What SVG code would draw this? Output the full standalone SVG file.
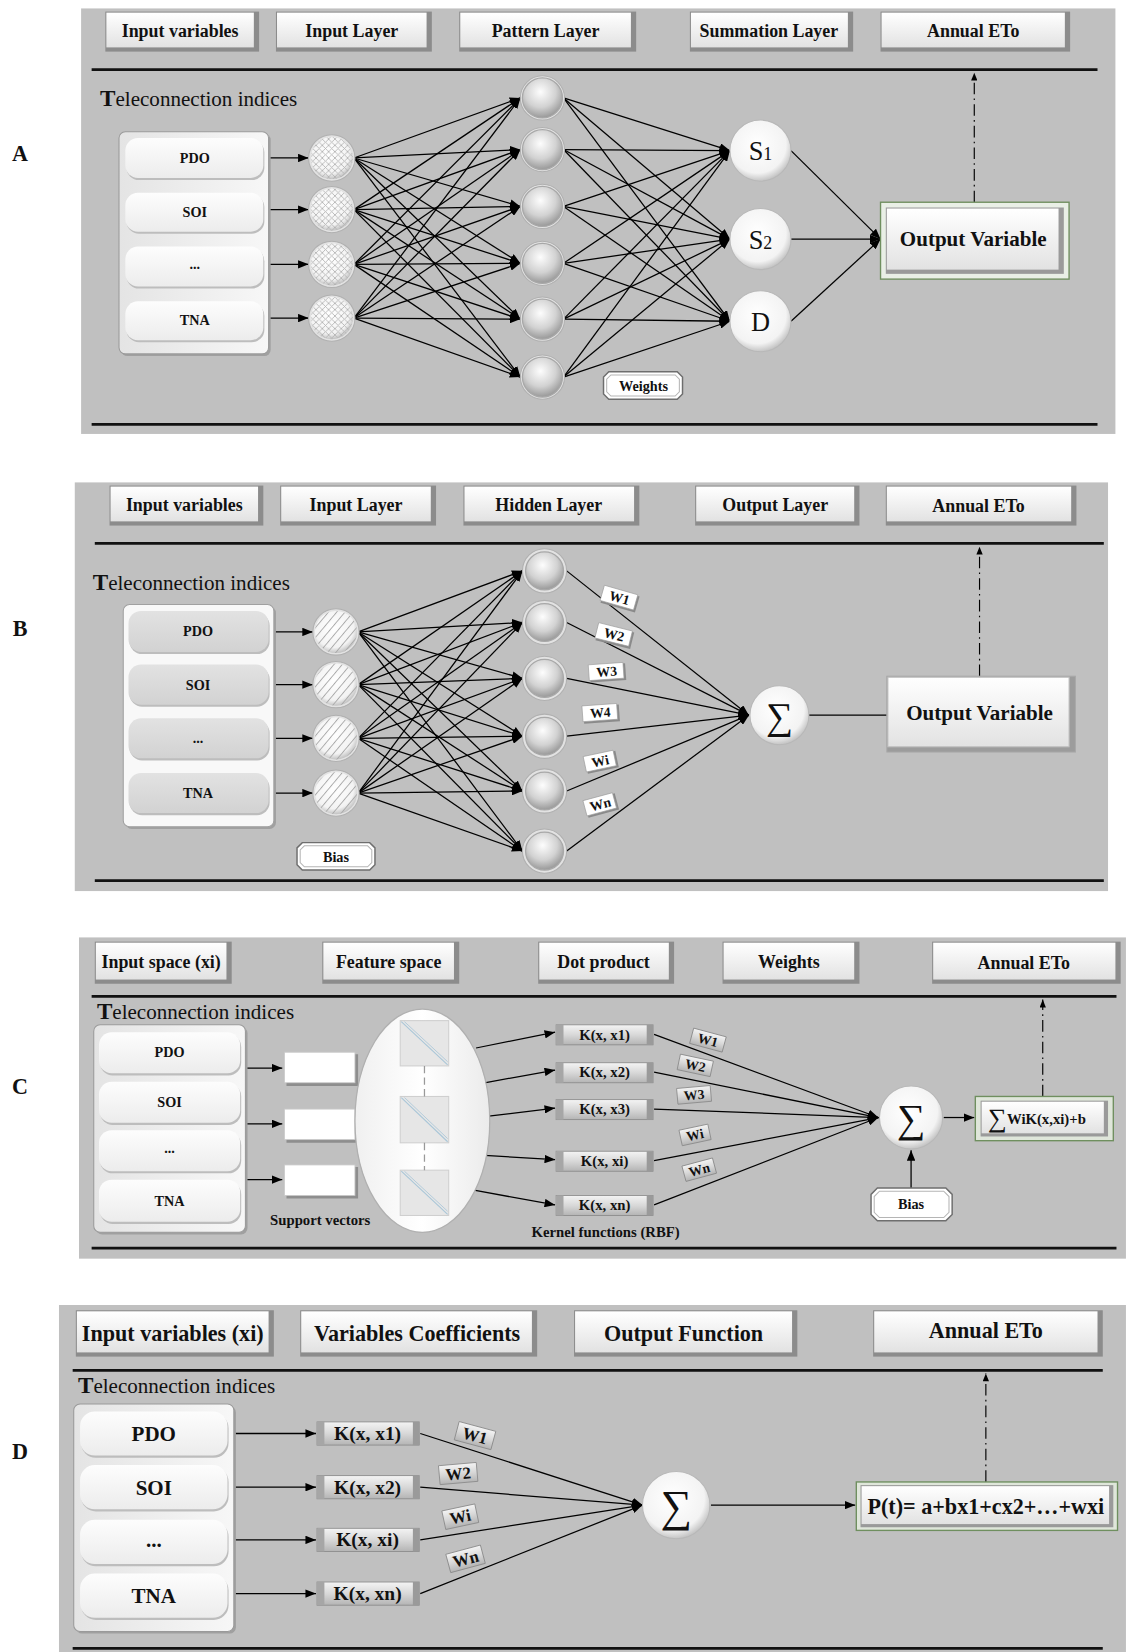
<svg xmlns="http://www.w3.org/2000/svg" width="1127" height="1652" viewBox="0 0 1127 1652">
<style>
text{font-family:'Liberation Serif','DejaVu Serif',serif;fill:#111}
.bg{fill:#c0c0c0}
.rule{stroke:#111;stroke-width:2.6}
.ln{stroke:#000;stroke-width:1.2;fill:none}
.la{stroke:#000;stroke-width:1.2;fill:none;marker-end:url(#ah)}
.dd{stroke:#000;stroke-width:1.1;fill:none;stroke-dasharray:11 4 1.5 4;marker-end:url(#ahS)}
.hs{fill:#8c8c8c}
.hf{fill:url(#gHdr)}
.ht{font-weight:bold;font-size:17px;text-anchor:middle}
.htD{font-weight:bold;font-size:21px;text-anchor:middle}
.tele{font-size:20px}
.it{font-weight:bold;font-size:13.5px;text-anchor:middle}
.itD{font-weight:bold;font-size:20px;text-anchor:middle}
.pnl{fill:url(#gPanel);stroke:#9a9a9a;stroke-width:1}
.pns{fill:#a0a0a0}
.item{fill:url(#gItem)}
.itemB{fill:url(#gItemB)}
.its{fill:#bdbdbd}
.node{fill:url(#gNode);stroke:#a8a8a8;stroke-width:1.2}
.ring{fill:#e2e2e2;stroke:#b0b0b0;stroke-width:1}
.sum{fill:url(#gSum);stroke:#b8b8b8;stroke-width:1}
.kb{fill:url(#gK);stroke:#8a8a8a;stroke-width:0.8}
.kt{font-weight:bold;font-size:14px;text-anchor:middle}
.ktD{font-weight:bold;font-size:18.5px;text-anchor:middle}
.wt{font-weight:bold;font-size:13px;text-anchor:middle}
.wtD{font-weight:bold;font-size:16px;text-anchor:middle}
.plq{fill:#fff;stroke:#6e6e6e;stroke-width:1.4}
.lbl{font-weight:bold;font-size:21px;text-anchor:middle}
</style>
<defs>
<linearGradient id="gHdr" x1="0" y1="0" x2="0" y2="1"><stop offset="0" stop-color="#ffffff"/><stop offset="1" stop-color="#e2e2e2"/></linearGradient>
<linearGradient id="gPanel" x1="0" y1="0" x2="1" y2="0"><stop offset="0" stop-color="#e4e4e4"/><stop offset="1" stop-color="#f7f7f7"/></linearGradient>
<linearGradient id="gItem" x1="0" y1="0" x2="0" y2="1"><stop offset="0" stop-color="#fdfdfd"/><stop offset="1" stop-color="#ececec"/></linearGradient>
<linearGradient id="gItemB" x1="0" y1="0" x2="0" y2="1"><stop offset="0" stop-color="#e2e2e2"/><stop offset="1" stop-color="#d2d2d2"/></linearGradient>
<linearGradient id="gK" x1="0" y1="0" x2="0" y2="1"><stop offset="0" stop-color="#f4f4f4"/><stop offset="0.5" stop-color="#d8d8d8"/><stop offset="1" stop-color="#b4b4b4"/></linearGradient>
<linearGradient id="gEl" x1="0" y1="0" x2="1" y2="0"><stop offset="0" stop-color="#f0f0f0"/><stop offset="0.5" stop-color="#ffffff"/><stop offset="1" stop-color="#ebebeb"/></linearGradient>
<radialGradient id="gNode" cx="0.45" cy="0.35" r="0.7"><stop offset="0" stop-color="#fdfdfd"/><stop offset="0.55" stop-color="#d2d2d2"/><stop offset="1" stop-color="#8e8e8e"/></radialGradient>
<radialGradient id="gSum" cx="0.45" cy="0.4" r="0.65"><stop offset="0" stop-color="#ffffff"/><stop offset="0.72" stop-color="#f3f3f3"/><stop offset="1" stop-color="#b2b2b2"/></radialGradient>
<pattern id="pCross" width="6" height="6" patternUnits="userSpaceOnUse"><path d="M0,0 L6,6 M6,0 L0,6" stroke="#b2b2b2" stroke-width="0.8"/></pattern>
<pattern id="pHatch" width="6" height="6" patternUnits="userSpaceOnUse" patternTransform="rotate(40)"><line x1="0" y1="0" x2="0" y2="6" stroke="#aaaaaa" stroke-width="1.8"/></pattern>
<marker id="ah" viewBox="0 0 10 8" refX="10" refY="4" markerWidth="10" markerHeight="8" markerUnits="userSpaceOnUse" orient="auto"><path d="M0,0 L10,4 L0,8 z" fill="#000"/></marker>
<marker id="ahS" viewBox="0 0 10 8" refX="10" refY="4" markerWidth="8" markerHeight="6" markerUnits="userSpaceOnUse" orient="auto"><path d="M0,0 L10,4 L0,8 z" fill="#000"/></marker>
</defs>
<rect width="1127" height="1652" fill="#ffffff"/>
<g transform="scale(1.05327)">

<!-- ================= Backgrounds ================= -->
<g id="backgrounds">
<rect class="bg" x="77" y="8" width="982" height="404"/>
<rect class="bg" x="71" y="458" width="981" height="388"/>
<rect class="bg" x="75" y="890" width="994" height="305"/>
<rect class="bg" x="56" y="1239" width="1013" height="330"/>
<line class="rule" x1="87" y1="66" x2="1042" y2="66"/>
<line class="rule" x1="87" y1="403" x2="1042" y2="403"/>
<line class="rule" x1="90" y1="516" x2="1048" y2="516"/>
<line class="rule" x1="90" y1="836" x2="1048" y2="836"/>
<line class="rule" x1="87" y1="946" x2="1060" y2="946"/>
<line class="rule" x1="87" y1="1185" x2="1060" y2="1185"/>
<line class="rule" x1="69" y1="1301" x2="1047" y2="1301"/>
<line class="rule" x1="69" y1="1565" x2="1047" y2="1565"/>
<text class="lbl" x="19" y="153">A</text>
<text class="lbl" x="19" y="604">B</text>
<text class="lbl" x="19" y="1039">C</text>
<text class="lbl" x="19" y="1385">D</text>
<text class="tele" x="95" y="101"><tspan font-weight="bold" font-size="22">T</tspan>eleconnection indices</text>
<text class="tele" x="88" y="560"><tspan font-weight="bold" font-size="22">T</tspan>eleconnection indices</text>
<text class="tele" x="92" y="967"><tspan font-weight="bold" font-size="22">T</tspan>eleconnection indices</text>
<text class="tele" x="74" y="1323"><tspan font-weight="bold" font-size="22">T</tspan>eleconnection indices</text>
</g>

<!-- ================= Connectors ================= -->
<g id="connectors">
<!-- A: input -> pattern -->
<line class="la" x1="255" y1="150" x2="293" y2="150"/>
<line class="la" x1="255" y1="199" x2="293" y2="199"/>
<line class="la" x1="255" y1="251" x2="293" y2="251"/>
<line class="la" x1="255" y1="302" x2="293" y2="302"/>
<line class="la" x1="336" y1="150" x2="494" y2="93"/><line class="la" x1="336" y1="150" x2="494" y2="142"/><line class="la" x1="336" y1="150" x2="494" y2="196"/><line class="la" x1="336" y1="150" x2="494" y2="250"/><line class="la" x1="336" y1="150" x2="494" y2="303"/><line class="la" x1="336" y1="150" x2="494" y2="358"/>
<line class="la" x1="336" y1="199" x2="494" y2="93"/><line class="la" x1="336" y1="199" x2="494" y2="142"/><line class="la" x1="336" y1="199" x2="494" y2="196"/><line class="la" x1="336" y1="199" x2="494" y2="250"/><line class="la" x1="336" y1="199" x2="494" y2="303"/><line class="la" x1="336" y1="199" x2="494" y2="358"/>
<line class="la" x1="336" y1="251" x2="494" y2="93"/><line class="la" x1="336" y1="251" x2="494" y2="142"/><line class="la" x1="336" y1="251" x2="494" y2="196"/><line class="la" x1="336" y1="251" x2="494" y2="250"/><line class="la" x1="336" y1="251" x2="494" y2="303"/><line class="la" x1="336" y1="251" x2="494" y2="358"/>
<line class="la" x1="336" y1="302" x2="494" y2="93"/><line class="la" x1="336" y1="302" x2="494" y2="142"/><line class="la" x1="336" y1="302" x2="494" y2="196"/><line class="la" x1="336" y1="302" x2="494" y2="250"/><line class="la" x1="336" y1="302" x2="494" y2="303"/><line class="la" x1="336" y1="302" x2="494" y2="358"/>
<!-- A: pattern -> summation -->
<line class="la" x1="535" y1="93" x2="693" y2="143"/><line class="la" x1="535" y1="93" x2="693" y2="227"/><line class="la" x1="535" y1="93" x2="693" y2="305"/>
<line class="la" x1="535" y1="142" x2="693" y2="143"/><line class="la" x1="535" y1="142" x2="693" y2="227"/><line class="la" x1="535" y1="142" x2="693" y2="305"/>
<line class="la" x1="535" y1="196" x2="693" y2="143"/><line class="la" x1="535" y1="196" x2="693" y2="227"/><line class="la" x1="535" y1="196" x2="693" y2="305"/>
<line class="la" x1="535" y1="250" x2="693" y2="143"/><line class="la" x1="535" y1="250" x2="693" y2="227"/><line class="la" x1="535" y1="250" x2="693" y2="305"/>
<line class="la" x1="535" y1="303" x2="693" y2="143"/><line class="la" x1="535" y1="303" x2="693" y2="227"/><line class="la" x1="535" y1="303" x2="693" y2="305"/>
<line class="la" x1="535" y1="358" x2="693" y2="143"/><line class="la" x1="535" y1="358" x2="693" y2="227"/><line class="la" x1="535" y1="358" x2="693" y2="305"/>
<!-- A: summation -> output -->
<line class="la" x1="751" y1="143" x2="836" y2="227"/>
<line class="la" x1="751" y1="227" x2="836" y2="227"/>
<line class="la" x1="751" y1="305" x2="836" y2="227"/>
<line class="dd" x1="925" y1="192" x2="925" y2="69"/>

<!-- B: input -> hidden -->
<line class="la" x1="260" y1="600" x2="297" y2="600"/>
<line class="la" x1="260" y1="650" x2="297" y2="650"/>
<line class="la" x1="260" y1="701" x2="297" y2="701"/>
<line class="la" x1="260" y1="753" x2="297" y2="753"/>
<line class="la" x1="340" y1="600" x2="496" y2="542"/><line class="la" x1="340" y1="600" x2="496" y2="591"/><line class="la" x1="340" y1="600" x2="496" y2="644"/><line class="la" x1="340" y1="600" x2="496" y2="699"/><line class="la" x1="340" y1="600" x2="496" y2="751"/><line class="la" x1="340" y1="600" x2="496" y2="808"/>
<line class="la" x1="340" y1="650" x2="496" y2="542"/><line class="la" x1="340" y1="650" x2="496" y2="591"/><line class="la" x1="340" y1="650" x2="496" y2="644"/><line class="la" x1="340" y1="650" x2="496" y2="699"/><line class="la" x1="340" y1="650" x2="496" y2="751"/><line class="la" x1="340" y1="650" x2="496" y2="808"/>
<line class="la" x1="340" y1="701" x2="496" y2="542"/><line class="la" x1="340" y1="701" x2="496" y2="591"/><line class="la" x1="340" y1="701" x2="496" y2="644"/><line class="la" x1="340" y1="701" x2="496" y2="699"/><line class="la" x1="340" y1="701" x2="496" y2="751"/><line class="la" x1="340" y1="701" x2="496" y2="808"/>
<line class="la" x1="340" y1="753" x2="496" y2="542"/><line class="la" x1="340" y1="753" x2="496" y2="591"/><line class="la" x1="340" y1="753" x2="496" y2="644"/><line class="la" x1="340" y1="753" x2="496" y2="699"/><line class="la" x1="340" y1="753" x2="496" y2="751"/><line class="la" x1="340" y1="753" x2="496" y2="808"/>
<!-- B: hidden -> sigma -->
<line class="la" x1="538" y1="542" x2="711" y2="679"/>
<line class="la" x1="538" y1="591" x2="711" y2="679"/>
<line class="la" x1="538" y1="644" x2="711" y2="679"/>
<line class="la" x1="538" y1="699" x2="711" y2="679"/>
<line class="la" x1="538" y1="751" x2="711" y2="679"/>
<line class="la" x1="538" y1="808" x2="711" y2="679"/>
<line class="ln" x1="768" y1="679" x2="842" y2="679"/>
<line class="dd" x1="930" y1="642" x2="930" y2="519"/>

<!-- C -->
<line class="la" x1="233" y1="1014" x2="268" y2="1014"/>
<line class="la" x1="233" y1="1067" x2="268" y2="1067"/>
<line class="la" x1="233" y1="1120" x2="268" y2="1120"/>
<line class="la" x1="452" y1="995" x2="527" y2="980"/>
<line class="la" x1="460" y1="1028" x2="527" y2="1016"/>
<line class="la" x1="462" y1="1060" x2="527" y2="1052"/>
<line class="la" x1="460" y1="1097" x2="527" y2="1101"/>
<line class="la" x1="450" y1="1130" x2="527" y2="1144"/>
<line class="la" x1="621" y1="982" x2="834" y2="1061"/>
<line class="la" x1="621" y1="1018" x2="834" y2="1061"/>
<line class="la" x1="621" y1="1053" x2="834" y2="1061"/>
<line class="la" x1="621" y1="1102" x2="834" y2="1061"/>
<line class="la" x1="621" y1="1144" x2="834" y2="1061"/>
<line class="la" x1="896" y1="1061" x2="925" y2="1061"/>
<line class="la" x1="865" y1="1128" x2="865" y2="1092"/>
<line class="dd" x1="990" y1="1041" x2="990" y2="949"/>

<!-- D -->
<line class="la" x1="216" y1="1361" x2="300" y2="1361"/>
<line class="la" x1="216" y1="1412" x2="300" y2="1412"/>
<line class="la" x1="216" y1="1462" x2="300" y2="1462"/>
<line class="la" x1="216" y1="1513" x2="300" y2="1513"/>
<line class="la" x1="399" y1="1361" x2="610" y2="1429"/>
<line class="la" x1="399" y1="1412" x2="610" y2="1429"/>
<line class="la" x1="399" y1="1462" x2="610" y2="1429"/>
<line class="la" x1="399" y1="1513" x2="610" y2="1429"/>
<line class="la" x1="675" y1="1429" x2="812" y2="1429"/>
<line class="dd" x1="936" y1="1407" x2="936" y2="1304"/>
</g>

<!-- ================= Panel A nodes ================= -->
<g id="a-hdr-1"><rect class="hs" x="100" y="11" width="146" height="38"/><rect class="hf" x="101" y="12" width="140" height="33"/><text class="ht" x="171" y="35">Input variables</text></g>
<g id="a-hdr-2"><rect class="hs" x="262" y="11" width="148" height="38"/><rect class="hf" x="263" y="12" width="142" height="33"/><text class="ht" x="334" y="35">Input Layer</text></g>
<g id="a-hdr-3"><rect class="hs" x="436" y="11" width="168" height="38"/><rect class="hf" x="437" y="12" width="162" height="33"/><text class="ht" x="518" y="35">Pattern Layer</text></g>
<g id="a-hdr-4"><rect class="hs" x="655" y="11" width="155" height="38"/><rect class="hf" x="656" y="12" width="149" height="33"/><text class="ht" x="730" y="35">Summation Layer</text></g>
<g id="a-hdr-5"><rect class="hs" x="836" y="11" width="180" height="38"/><rect class="hf" x="837" y="12" width="174" height="33"/><text class="ht" x="924" y="35">Annual ETo</text></g>
<g id="a-inputs">
<rect class="pns" x="115" y="127" width="142" height="211" rx="6"/>
<rect class="pnl" x="113" y="125" width="142" height="211" rx="6"/>
<rect class="its" x="120" y="133" width="131" height="38" rx="12"/><rect class="item" x="119" y="131" width="131" height="38" rx="12"/><text class="it" x="185" y="155">PDO</text>
<rect class="its" x="120" y="185" width="131" height="37" rx="12"/><rect class="item" x="119" y="183" width="131" height="37" rx="12"/><text class="it" x="185" y="206">SOI</text>
<rect class="its" x="120" y="236" width="131" height="38" rx="12"/><rect class="item" x="119" y="234" width="131" height="38" rx="12"/><text class="it" x="185" y="255">...</text>
<rect class="its" x="120" y="288" width="131" height="37" rx="12"/><rect class="item" x="119" y="286" width="131" height="37" rx="12"/><text class="it" x="185" y="309">TNA</text>
</g>
<g id="a-in-nodes">
<circle class="ring" cx="315" cy="150" r="22"/><circle cx="315" cy="150" r="20" fill="url(#gSum)"/><circle cx="315" cy="150" r="20" fill="url(#pCross)"/>
<circle class="ring" cx="315" cy="199" r="22"/><circle cx="315" cy="199" r="20" fill="url(#gSum)"/><circle cx="315" cy="199" r="20" fill="url(#pCross)"/>
<circle class="ring" cx="315" cy="251" r="22"/><circle cx="315" cy="251" r="20" fill="url(#gSum)"/><circle cx="315" cy="251" r="20" fill="url(#pCross)"/>
<circle class="ring" cx="315" cy="302" r="22"/><circle cx="315" cy="302" r="20" fill="url(#gSum)"/><circle cx="315" cy="302" r="20" fill="url(#pCross)"/>
</g>
<g id="a-pattern">
<circle class="ring" cx="515" cy="93" r="21"/><circle class="node" cx="515" cy="93" r="19"/>
<circle class="ring" cx="515" cy="142" r="21"/><circle class="node" cx="515" cy="142" r="19"/>
<circle class="ring" cx="515" cy="196" r="21"/><circle class="node" cx="515" cy="196" r="19"/>
<circle class="ring" cx="515" cy="250" r="21"/><circle class="node" cx="515" cy="250" r="19"/>
<circle class="ring" cx="515" cy="303" r="21"/><circle class="node" cx="515" cy="303" r="19"/>
<circle class="ring" cx="515" cy="358" r="21"/><circle class="node" cx="515" cy="358" r="19"/>
</g>
<g id="a-s1"><circle class="sum" cx="722" cy="143" r="29"/><text x="722" y="152" font-size="25" text-anchor="middle">S<tspan font-size="17">1</tspan></text></g>
<g id="a-s2"><circle class="sum" cx="722" cy="227" r="29"/><text x="722" y="236" font-size="25" text-anchor="middle">S<tspan font-size="17">2</tspan></text></g>
<g id="a-d"><circle class="sum" cx="722" cy="305" r="29"/><text x="722" y="314" font-size="25" text-anchor="middle">D</text></g>
<g id="a-output"><rect x="836" y="192" width="179" height="73" fill="#e9efe6" stroke="#6f8f5f" stroke-width="1.3"/><rect x="841" y="197" width="169" height="63" fill="#9a9a9a"/><rect x="842" y="198" width="163" height="58" fill="url(#gHdr)"/><text x="924" y="234" font-size="20" font-weight="bold" text-anchor="middle">Output Variable</text></g>
<g id="a-weights"><path class="plq" d="M578,353 L643,353 L648,358 L648,374 L643,379 L578,379 L573,374 L573,358 Z"/><path d="M580,356 L641,356 L645,360 L645,372 L641,376 L580,376 L576,372 L576,360 Z" fill="none" stroke="#b5b5b5" stroke-width="1"/><text class="it" x="611" y="371" font-size="13">Weights</text></g>

<!-- ================= Panel B nodes ================= -->
<g id="b-hdr-1"><rect class="hs" x="104" y="461" width="146" height="38"/><rect class="hf" x="105" y="462" width="140" height="33"/><text class="ht" x="175" y="485">Input variables</text></g>
<g id="b-hdr-2"><rect class="hs" x="266" y="461" width="148" height="38"/><rect class="hf" x="267" y="462" width="142" height="33"/><text class="ht" x="338" y="485">Input Layer</text></g>
<g id="b-hdr-3"><rect class="hs" x="440" y="461" width="167" height="38"/><rect class="hf" x="441" y="462" width="161" height="33"/><text class="ht" x="521" y="485">Hidden Layer</text></g>
<g id="b-hdr-4"><rect class="hs" x="660" y="461" width="156" height="38"/><rect class="hf" x="661" y="462" width="150" height="33"/><text class="ht" x="736" y="485">Output Layer</text></g>
<g id="b-hdr-5"><rect class="hs" x="841" y="461" width="181" height="38"/><rect class="hf" x="842" y="462" width="175" height="33"/><text class="ht" x="929" y="486">Annual ETo</text></g>
<g id="b-inputs">
<rect class="pns" x="119" y="576" width="143" height="211" rx="6"/>
<rect x="117" y="574" width="143" height="211" rx="6" fill="#f8f8f8" stroke="#a0a0a0"/>
<rect class="its" x="123" y="582" width="133" height="39" rx="12"/><rect class="itemB" x="122" y="580" width="133" height="39" rx="12"/><text class="it" x="188" y="604">PDO</text>
<rect class="its" x="123" y="633" width="133" height="38" rx="12"/><rect class="itemB" x="122" y="631" width="133" height="38" rx="12"/><text class="it" x="188" y="655">SOI</text>
<rect class="its" x="123" y="684" width="133" height="38" rx="12"/><rect class="itemB" x="122" y="682" width="133" height="38" rx="12"/><text class="it" x="188" y="705">...</text>
<rect class="its" x="123" y="736" width="133" height="38" rx="12"/><rect class="itemB" x="122" y="734" width="133" height="38" rx="12"/><text class="it" x="188" y="758">TNA</text>
</g>
<g id="b-in-nodes">
<circle class="ring" cx="319" cy="600" r="22"/><circle cx="319" cy="600" r="20" fill="url(#gSum)"/><circle cx="319" cy="600" r="20" fill="url(#pHatch)"/>
<circle class="ring" cx="319" cy="650" r="22"/><circle cx="319" cy="650" r="20" fill="url(#gSum)"/><circle cx="319" cy="650" r="20" fill="url(#pHatch)"/>
<circle class="ring" cx="319" cy="701" r="22"/><circle cx="319" cy="701" r="20" fill="url(#gSum)"/><circle cx="319" cy="701" r="20" fill="url(#pHatch)"/>
<circle class="ring" cx="319" cy="753" r="22"/><circle cx="319" cy="753" r="20" fill="url(#gSum)"/><circle cx="319" cy="753" r="20" fill="url(#pHatch)"/>
</g>
<g id="b-hidden">
<circle class="ring" cx="517" cy="542" r="21"/><circle class="node" cx="517" cy="542" r="18"/>
<circle class="ring" cx="517" cy="591" r="21"/><circle class="node" cx="517" cy="591" r="18"/>
<circle class="ring" cx="517" cy="644" r="21"/><circle class="node" cx="517" cy="644" r="18"/>
<circle class="ring" cx="517" cy="699" r="21"/><circle class="node" cx="517" cy="699" r="18"/>
<circle class="ring" cx="517" cy="751" r="21"/><circle class="node" cx="517" cy="751" r="18"/>
<circle class="ring" cx="517" cy="808" r="21"/><circle class="node" cx="517" cy="808" r="18"/>
</g>
<g id="b-weights">
<g transform="translate(588,568) rotate(16)"><rect x="-16" y="-7" width="34" height="16" fill="#8a8a8a"/><rect x="-17" y="-8" width="33" height="15" fill="#fff" stroke="#999" stroke-width="0.6"/><text class="wt" x="0" y="4">W1</text></g>
<g transform="translate(583,603) rotate(14)"><rect x="-16" y="-7" width="34" height="16" fill="#8a8a8a"/><rect x="-17" y="-8" width="33" height="15" fill="#fff" stroke="#999" stroke-width="0.6"/><text class="wt" x="0" y="4">W2</text></g>
<g transform="translate(576,638) rotate(-4)"><rect x="-16" y="-7" width="34" height="16" fill="#8a8a8a"/><rect x="-17" y="-8" width="33" height="15" fill="#fff" stroke="#999" stroke-width="0.6"/><text class="wt" x="0" y="4">W3</text></g>
<g transform="translate(570,677) rotate(-4)"><rect x="-16" y="-7" width="34" height="16" fill="#8a8a8a"/><rect x="-17" y="-8" width="33" height="15" fill="#fff" stroke="#999" stroke-width="0.6"/><text class="wt" x="0" y="4">W4</text></g>
<g transform="translate(570,723) rotate(-12)"><rect x="-14" y="-7" width="30" height="16" fill="#8a8a8a"/><rect x="-15" y="-8" width="29" height="15" fill="#fff" stroke="#999" stroke-width="0.6"/><text class="wt" x="0" y="4">Wi</text></g>
<g transform="translate(570,764) rotate(-15)"><rect x="-14" y="-7" width="30" height="16" fill="#8a8a8a"/><rect x="-15" y="-8" width="29" height="15" fill="#fff" stroke="#999" stroke-width="0.6"/><text class="wt" x="0" y="4">Wn</text></g>
</g>
<g id="b-sigma"><circle class="sum" cx="740" cy="679" r="28"/><text x="740" y="692" font-size="36" text-anchor="middle">∑</text></g>
<g id="b-output"><rect x="842" y="642" width="179" height="72" fill="#9c9c9c" stroke="#a8a8a8"/><rect x="843" y="643" width="172" height="66" fill="url(#gHdr)" stroke="#c0c0c0"/><text x="930" y="684" font-size="20" font-weight="bold" text-anchor="middle">Output Variable</text></g>
<g id="b-bias"><path class="plq" d="M287,800 L351,800 L356,805 L356,821 L351,826 L287,826 L282,821 L282,805 Z"/><path d="M289,803 L349,803 L353,807 L353,819 L349,823 L289,823 L285,819 L285,807 Z" fill="none" stroke="#b5b5b5"/><text class="it" x="319" y="818" font-size="13.5">Bias</text></g>

<!-- ================= Panel C nodes ================= -->
<g id="c-hdr-1"><rect class="hs" x="90" y="894" width="130" height="40"/><rect class="hf" x="91" y="895" width="124" height="35"/><text class="ht" x="153" y="919">Input space (xi)</text></g>
<g id="c-hdr-2"><rect class="hs" x="306" y="894" width="130" height="40"/><rect class="hf" x="307" y="895" width="124" height="35"/><text class="ht" x="369" y="919">Feature space</text></g>
<g id="c-hdr-3"><rect class="hs" x="511" y="894" width="129" height="40"/><rect class="hf" x="512" y="895" width="123" height="35"/><text class="ht" x="573" y="919">Dot product</text></g>
<g id="c-hdr-4"><rect class="hs" x="686" y="894" width="130" height="40"/><rect class="hf" x="687" y="895" width="124" height="35"/><text class="ht" x="749" y="919">Weights</text></g>
<g id="c-hdr-5"><rect class="hs" x="885" y="894" width="179" height="40"/><rect class="hf" x="886" y="895" width="173" height="35"/><text class="ht" x="972" y="920">Annual ETo</text></g>
<g id="c-inputs">
<rect class="pns" x="91" y="975" width="144" height="197" rx="6"/>
<rect class="pnl" x="89" y="973" width="144" height="197" rx="6"/>
<rect class="its" x="95" y="982" width="134" height="39" rx="12"/><rect class="item" x="94" y="980" width="134" height="39" rx="12"/><text class="it" x="161" y="1004">PDO</text>
<rect class="its" x="95" y="1029" width="134" height="39" rx="12"/><rect class="item" x="94" y="1027" width="134" height="39" rx="12"/><text class="it" x="161" y="1051">SOI</text>
<rect class="its" x="95" y="1075" width="134" height="39" rx="12"/><rect class="item" x="94" y="1073" width="134" height="39" rx="12"/><text class="it" x="161" y="1095">...</text>
<rect class="its" x="95" y="1122" width="134" height="40" rx="12"/><rect class="item" x="94" y="1120" width="134" height="40" rx="12"/><text class="it" x="161" y="1145">TNA</text>
</g>
<g id="c-support">
<path d="M272,1001 L340,1001 L340,1031 L272,1031 Z" fill="#8e8e8e"/><rect x="270" y="999" width="67" height="29" fill="#fff" stroke="#c8c8c8" stroke-width="0.8"/>
<path d="M272,1055 L340,1055 L340,1085 L272,1085 Z" fill="#8e8e8e"/><rect x="270" y="1053" width="67" height="29" fill="#fff" stroke="#c8c8c8" stroke-width="0.8"/>
<path d="M272,1108 L340,1108 L340,1138 L272,1138 Z" fill="#8e8e8e"/><rect x="270" y="1106" width="67" height="29" fill="#fff" stroke="#c8c8c8" stroke-width="0.8"/>
<text x="304" y="1163" font-size="14" font-weight="bold" text-anchor="middle">Support vectors</text>
</g>
<g id="c-feature">
<ellipse cx="401" cy="1064" rx="64" ry="106" fill="url(#gEl)" stroke="#b0b0b0" stroke-width="1.2"/>
<rect x="380" y="969" width="46" height="43" fill="#e6e6e6" stroke="#cfcfcf"/><line x1="381" y1="970" x2="425" y2="1011" stroke="#a9c6d8" stroke-width="1"/><line x1="384" y1="970" x2="425" y2="1008" stroke="#a9c6d8" stroke-width="0.8"/>
<rect x="380" y="1041" width="46" height="44" fill="#e6e6e6" stroke="#cfcfcf"/><line x1="381" y1="1042" x2="425" y2="1084" stroke="#a9c6d8" stroke-width="1"/><line x1="384" y1="1042" x2="425" y2="1081" stroke="#a9c6d8" stroke-width="0.8"/>
<rect x="380" y="1111" width="46" height="43" fill="#e6e6e6" stroke="#cfcfcf"/><line x1="381" y1="1112" x2="425" y2="1153" stroke="#a9c6d8" stroke-width="1"/><line x1="384" y1="1112" x2="425" y2="1150" stroke="#a9c6d8" stroke-width="0.8"/>
<line x1="403" y1="1012" x2="403" y2="1041" stroke="#999" stroke-width="1.2" stroke-dasharray="7 4"/>
<line x1="403" y1="1085" x2="403" y2="1111" stroke="#999" stroke-width="1.2" stroke-dasharray="7 4"/>
</g>
<g id="c-kernels">
<rect class="kb" x="528" y="973" width="92" height="19"/><rect x="528" y="973" width="7" height="19" fill="#a6a6a6"/><rect x="614" y="973" width="6" height="19" fill="#9a9a9a"/><text class="kt" x="574" y="987">K(x, x1)</text>
<rect class="kb" x="528" y="1009" width="92" height="19"/><rect x="528" y="1009" width="7" height="19" fill="#a6a6a6"/><rect x="614" y="1009" width="6" height="19" fill="#9a9a9a"/><text class="kt" x="574" y="1023">K(x, x2)</text>
<rect class="kb" x="528" y="1044" width="92" height="19"/><rect x="528" y="1044" width="7" height="19" fill="#a6a6a6"/><rect x="614" y="1044" width="6" height="19" fill="#9a9a9a"/><text class="kt" x="574" y="1058">K(x, x3)</text>
<rect class="kb" x="528" y="1093" width="92" height="19"/><rect x="528" y="1093" width="7" height="19" fill="#a6a6a6"/><rect x="614" y="1093" width="6" height="19" fill="#9a9a9a"/><text class="kt" x="574" y="1107">K(x, xi)</text>
<rect class="kb" x="528" y="1135" width="92" height="19"/><rect x="528" y="1135" width="7" height="19" fill="#a6a6a6"/><rect x="614" y="1135" width="6" height="19" fill="#9a9a9a"/><text class="kt" x="574" y="1149">K(x, xn)</text>
<text x="575" y="1174" font-size="14" font-weight="bold" text-anchor="middle">Kernel functions (RBF)</text>
</g>
<g id="c-weights">
<g transform="translate(672,988) rotate(15)"><rect x="-16" y="-8" width="32" height="15" class="kb"/><text class="wt" x="0" y="4">W1</text></g>
<g transform="translate(660,1012) rotate(12)"><rect x="-16" y="-8" width="32" height="15" class="kb"/><text class="wt" x="0" y="4">W2</text></g>
<g transform="translate(659,1040) rotate(-5)"><rect x="-16" y="-8" width="32" height="15" class="kb"/><text class="wt" x="0" y="4">W3</text></g>
<g transform="translate(660,1078) rotate(-12)"><rect x="-14" y="-8" width="28" height="15" class="kb"/><text class="wt" x="0" y="4">Wi</text></g>
<g transform="translate(664,1111) rotate(-15)"><rect x="-15" y="-8" width="30" height="15" class="kb"/><text class="wt" x="0" y="4">Wn</text></g>
</g>
<g id="c-sigma"><circle class="sum" cx="865" cy="1061" r="30"/><text x="865" y="1075" font-size="38" text-anchor="middle">∑</text></g>
<g id="c-bias"><path class="plq" d="M833,1128 L898,1128 L904,1134 L904,1153 L898,1159 L833,1159 L827,1153 L827,1134 Z"/><path d="M835,1131 L896,1131 L901,1136 L901,1151 L896,1156 L835,1156 L830,1151 L830,1136 Z" fill="none" stroke="#b5b5b5"/><text class="it" x="865" y="1148">Bias</text></g>
<g id="c-output"><rect x="926" y="1041" width="131" height="42" fill="#dfe6da" stroke="#6f8f5f" stroke-width="1.3"/><rect x="931" y="1045" width="121" height="34" fill="#9a9a9a"/><rect x="932" y="1046" width="116" height="30" fill="url(#gHdr)"/><text x="938" y="1070" font-size="25">∑</text><text x="956" y="1067" font-size="14" font-weight="bold">WiK(x,xi)+b</text></g>

<!-- ================= Panel D nodes ================= -->
<g id="d-hdr-1"><rect class="hs" x="72" y="1244" width="188" height="44"/><rect class="hf" x="73" y="1245" width="182" height="39"/><text class="htD" x="164" y="1273">Input variables (xi)</text></g>
<g id="d-hdr-2"><rect class="hs" x="285" y="1244" width="225" height="44"/><rect class="hf" x="286" y="1245" width="219" height="39"/><text class="htD" x="396" y="1273">Variables Coefficients</text></g>
<g id="d-hdr-3"><rect class="hs" x="545" y="1244" width="212" height="44"/><rect class="hf" x="546" y="1245" width="206" height="39"/><text class="htD" x="649" y="1273">Output Function</text></g>
<g id="d-hdr-4"><rect class="hs" x="829" y="1244" width="218" height="44"/><rect class="hf" x="830" y="1245" width="212" height="39"/><text class="htD" x="936" y="1270" font-size="19">Annual ETo</text></g>
<g id="d-inputs">
<rect class="pns" x="72" y="1335" width="152" height="216" rx="6"/>
<rect class="pnl" x="70" y="1333" width="152" height="216" rx="6"/>
<rect class="its" x="77" y="1342" width="140" height="42" rx="14"/><rect class="item" x="76" y="1340" width="140" height="42" rx="14"/><text class="itD" x="146" y="1368">PDO</text>
<rect class="its" x="77" y="1393" width="140" height="42" rx="14"/><rect class="item" x="76" y="1391" width="140" height="42" rx="14"/><text class="itD" x="146" y="1419">SOI</text>
<rect class="its" x="77" y="1445" width="140" height="42" rx="14"/><rect class="item" x="76" y="1443" width="140" height="42" rx="14"/><text class="itD" x="146" y="1469">...</text>
<rect class="its" x="77" y="1496" width="140" height="42" rx="14"/><rect class="item" x="76" y="1494" width="140" height="42" rx="14"/><text class="itD" x="146" y="1522">TNA</text>
</g>
<g id="d-kernels">
<rect class="kb" x="301" y="1350" width="97" height="22"/><rect x="301" y="1350" width="7" height="22" fill="#a6a6a6"/><rect x="392" y="1350" width="6" height="22" fill="#9a9a9a"/><text class="ktD" x="349" y="1367">K(x, x1)</text>
<rect class="kb" x="301" y="1401" width="97" height="22"/><rect x="301" y="1401" width="7" height="22" fill="#a6a6a6"/><rect x="392" y="1401" width="6" height="22" fill="#9a9a9a"/><text class="ktD" x="349" y="1418">K(x, x2)</text>
<rect class="kb" x="301" y="1451" width="97" height="22"/><rect x="301" y="1451" width="7" height="22" fill="#a6a6a6"/><rect x="392" y="1451" width="6" height="22" fill="#9a9a9a"/><text class="ktD" x="349" y="1468">K(x, xi)</text>
<rect class="kb" x="301" y="1502" width="97" height="22"/><rect x="301" y="1502" width="7" height="22" fill="#a6a6a6"/><rect x="392" y="1502" width="6" height="22" fill="#9a9a9a"/><text class="ktD" x="349" y="1519">K(x, xn)</text>
</g>
<g id="d-weights">
<g transform="translate(451,1363) rotate(15)"><rect x="-18" y="-9" width="36" height="18" class="kb"/><text class="wtD" x="0" y="5.5">W1</text></g>
<g transform="translate(435,1399) rotate(-5)"><rect x="-18" y="-9" width="36" height="18" class="kb"/><text class="wtD" x="0" y="5.5">W2</text></g>
<g transform="translate(437,1440) rotate(-12)"><rect x="-16" y="-9" width="32" height="18" class="kb"/><text class="wtD" x="0" y="5.5">Wi</text></g>
<g transform="translate(442,1480) rotate(-15)"><rect x="-17" y="-9" width="34" height="18" class="kb"/><text class="wtD" x="0" y="5.5">Wn</text></g>
</g>
<g id="d-sigma"><circle class="sum" cx="642" cy="1429" r="32"/><text x="642" y="1444" font-size="42" text-anchor="middle">∑</text></g>
<g id="d-output"><rect x="813" y="1407" width="248" height="46" fill="#dfe6da" stroke="#6f8f5f" stroke-width="1.3"/><rect x="817" y="1410" width="240" height="40" fill="#9a9a9a"/><rect x="818" y="1411" width="235" height="36" fill="url(#gHdr)"/><text x="936" y="1437" font-size="21" font-weight="bold" text-anchor="middle">P(t)= a+bx1+cx2+…+wxi</text></g>

</g>
</svg>
